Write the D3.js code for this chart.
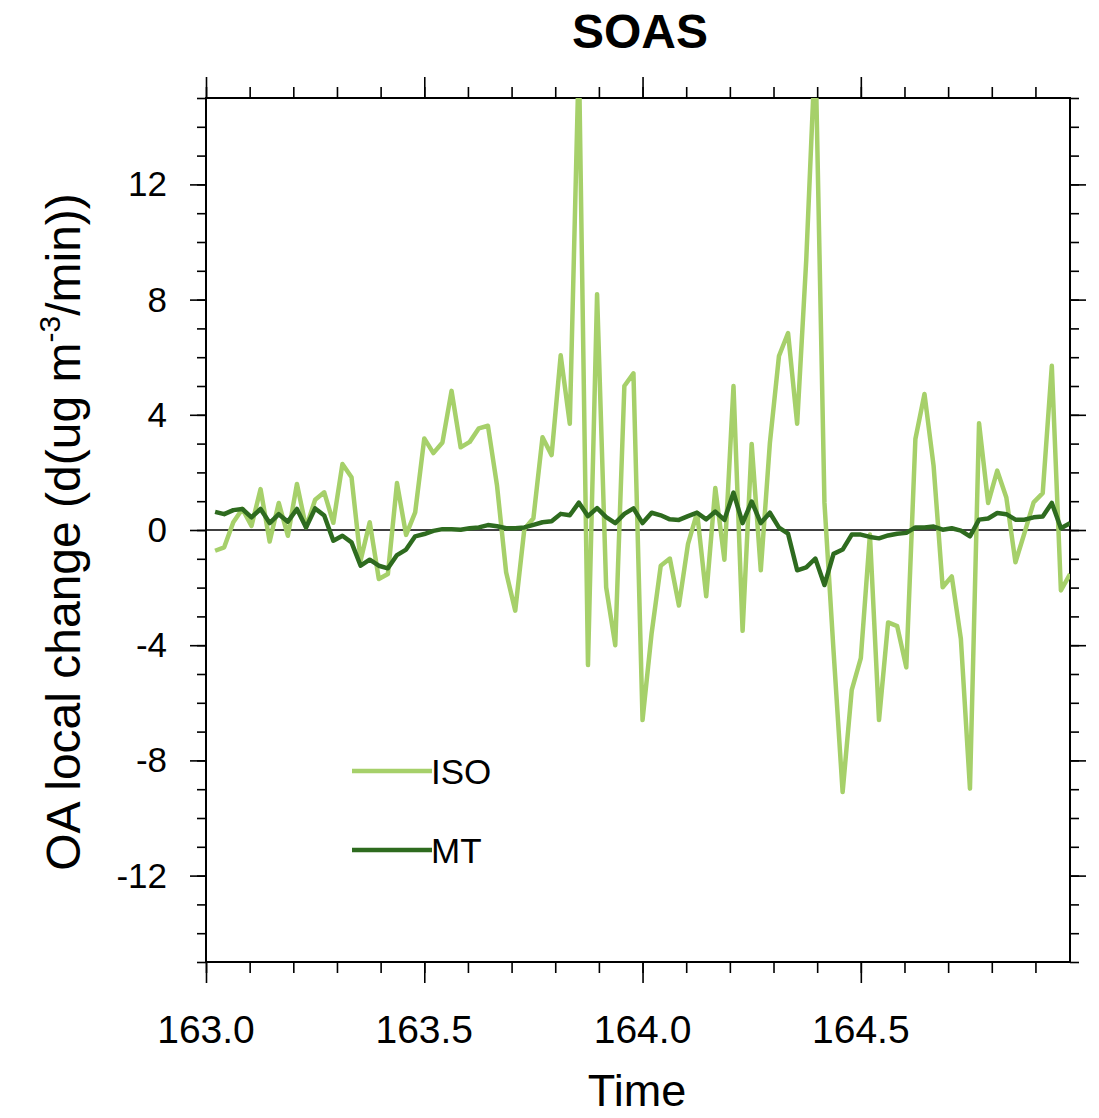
<!DOCTYPE html>
<html>
<head>
<meta charset="utf-8">
<script src="https://cdn.jsdelivr.net/npm/d3@7/dist/d3.min.js"></script>
<style>
  body { margin: 0; background: #fff; }
  text { font-family: "Liberation Sans", Arial, sans-serif; fill: #000; }
</style>
</head>
<body>
<svg id="chart" width="1099" height="1118"></svg>
<script>
// half-hourly values, day 163 00:30 -> 164 23:30
const isoValues = [
  -0.72, -0.6, 0.27, 0.73, 0.14, 1.42, -0.4, 0.94, -0.2, 1.6,
  0.09, 1.05, 1.31, 0.25, 2.29, 1.83, -1.06, 0.27, -1.7, -1.53,
  1.63, -0.17, 0.61, 3.18, 2.67, 3.04, 4.83, 2.87, 3.06, 3.53,
  3.62, 1.54, -1.47, -2.8, 0.03, 0.41, 3.22, 2.6, 6.07, 3.69,
  16.5, -4.69, 8.19, -1.99, -4.0, 5.0, 5.44, -6.6, -3.58, -1.24,
  -0.99, -2.62, -0.48, 0.6, -2.3, 1.46, -1.03, 5.0, -3.5, 2.99,
  -1.4, 3.02, 6.04, 6.84, 3.69, 9.38, 16.8, 0.95, -4.2, -9.1,
  -5.56, -4.45, -0.16, -6.6, -3.21, -3.34, -4.77, 3.16, 4.72, 2.23,
  -1.99, -1.61, -3.78, -8.98, 3.71, 0.94, 2.06, 1.13, -1.12, -0.1,
  0.96, 1.28, 5.7, -2.1, -1.53
];
const mtValues = [
  0.63, 0.55, 0.69, 0.73, 0.44, 0.73, 0.24, 0.55, 0.29, 0.73,
  0.09, 0.75, 0.5, -0.37, -0.2, -0.43, -1.24, -1.03, -1.24, -1.33,
  -0.87, -0.68, -0.22, -0.14, -0.03, 0.03, 0.03, 0.01, 0.06, 0.09,
  0.17, 0.13, 0.06, 0.06, 0.09, 0.18, 0.27, 0.3, 0.56, 0.51,
  0.95, 0.48, 0.76, 0.45, 0.24, 0.56, 0.75, 0.24, 0.6, 0.51,
  0.37, 0.35, 0.48, 0.6, 0.37, 0.64, 0.35, 1.3, 0.24, 0.99,
  0.24, 0.6, 0.08, -0.13, -1.4, -1.3, -0.99, -1.91, -0.83, -0.68,
  -0.16, -0.16, -0.24, -0.29, -0.19, -0.13, -0.1, 0.09, 0.09, 0.12,
  0.01, 0.06, -0.02, -0.22, 0.36, 0.4, 0.59, 0.55, 0.36, 0.36,
  0.44, 0.47, 0.94, 0.06, 0.24
];
const times = isoValues.map((_, i) => 163 + (i + 1) / 48);

const xMajorTicks = [163.0, 163.5, 164.0, 164.5];
const yMajorTicks = [-12, -8, -4, 0, 4, 8, 12];
const seriesNames = ["ISO", "MT"];
const seriesColors = ["#a6d06a", "#2e6b1f"];

const svg = d3.select("#chart");
const plotLeft = 206, plotRight = 1070, plotTop = 98, plotBottom = 962;

const x = d3.scaleLinear().domain([163, times[times.length - 1]]).range([plotLeft, plotRight]);
const y = d3.scaleLinear().domain([-15, 15]).range([plotBottom, plotTop]);

const xMinor = d3.range(1630, 1650).map(d => d / 10);
const yMinor = d3.range(-15, 16);

// ticks, all pointing outward
function drawX(pos, dir) {
  svg.append("g")
    .attr("transform", `translate(0,${pos})`)
    .call(d3.axisBottom(x).tickValues(xMinor).tickSize(11 * dir).tickFormat(""))
    .call(g => g.select(".domain").remove());
  svg.append("g")
    .attr("transform", `translate(0,${pos})`)
    .call(d3.axisBottom(x).tickValues(xMajorTicks).tickSize(21 * dir).tickFormat(""))
    .call(g => g.select(".domain").remove());
}
function drawY(pos, dir) {
  svg.append("g")
    .attr("transform", `translate(${pos},0)`)
    .call(d3.axisLeft(y).tickValues(yMinor).tickSize(9 * dir).tickFormat(""))
    .call(g => g.select(".domain").remove());
  svg.append("g")
    .attr("transform", `translate(${pos},0)`)
    .call(d3.axisLeft(y).tickValues(yMajorTicks).tickSize(16 * dir).tickFormat(""))
    .call(g => g.select(".domain").remove());
}
drawX(plotBottom, 1);
drawX(plotTop, -1);
drawY(plotLeft, 1);
drawY(plotRight, -1);
svg.selectAll(".tick line").attr("stroke", "#000").attr("stroke-width", 1.6);

// frame
svg.append("rect")
  .attr("x", plotLeft).attr("y", plotTop)
  .attr("width", plotRight - plotLeft).attr("height", plotBottom - plotTop)
  .attr("fill", "none").attr("stroke", "#000").attr("stroke-width", 2);

// zero reference line
svg.append("line")
  .attr("x1", plotLeft).attr("x2", plotRight)
  .attr("y1", y(0)).attr("y2", y(0))
  .attr("stroke", "#000").attr("stroke-width", 1.3);

// tick labels
svg.selectAll(".xlab")
  .data(xMajorTicks)
  .enter().append("text")
  .attr("x", d => x(d))
  .attr("y", 1043)
  .attr("text-anchor", "middle")
  .attr("font-size", 39)
  .text(d => d.toFixed(1));

svg.selectAll(".ylab")
  .data(yMajorTicks)
  .enter().append("text")
  .attr("x", 167)
  .attr("y", d => y(d) + 12)
  .attr("text-anchor", "end")
  .attr("font-size", 35)
  .text(d => d);

// series
svg.append("clipPath").attr("id", "clip")
  .append("rect")
  .attr("x", plotLeft).attr("y", plotTop)
  .attr("width", plotRight - plotLeft).attr("height", plotBottom - plotTop);

const line = d3.line()
  .x((d, i) => x(times[i]))
  .y(d => y(d));

[isoValues, mtValues].forEach((vals, s) => {
  svg.append("path")
    .datum(vals)
    .attr("clip-path", "url(#clip)")
    .attr("fill", "none")
    .attr("stroke", seriesColors[s])
    .attr("stroke-width", 4.5)
    .attr("stroke-linejoin", "round")
    .attr("d", line);
});

// legend
const legendY = [771, 850];
seriesNames.forEach((name, s) => {
  svg.append("line")
    .attr("x1", 352).attr("x2", 432)
    .attr("y1", legendY[s]).attr("y2", legendY[s])
    .attr("stroke", seriesColors[s])
    .attr("stroke-width", 4.5);
  svg.append("text")
    .attr("x", 431)
    .attr("y", legendY[s] + 13)
    .attr("font-size", 35)
    .text(name);
});

// titles
svg.append("text")
  .attr("x", 640).attr("y", 48)
  .attr("text-anchor", "middle")
  .attr("font-family", "Lato, 'Open Sans', sans-serif")
  .attr("font-weight", "bold")
  .attr("font-size", 48)
  .text("SOAS");

svg.append("text")
  .attr("x", 637).attr("y", 1106)
  .attr("text-anchor", "middle")
  .attr("font-size", 45)
  .text("Time");

const yTitle = svg.append("text")
  .attr("transform", "translate(80,532) rotate(-90)")
  .attr("text-anchor", "middle")
  .attr("font-size", 48);
yTitle.append("tspan").text("OA local change (d(ug m");
yTitle.append("tspan").attr("font-size", 30).attr("dy", -20).text("-3");
yTitle.append("tspan").attr("dy", 20).text("/min))");
</script>
</body>
</html>
